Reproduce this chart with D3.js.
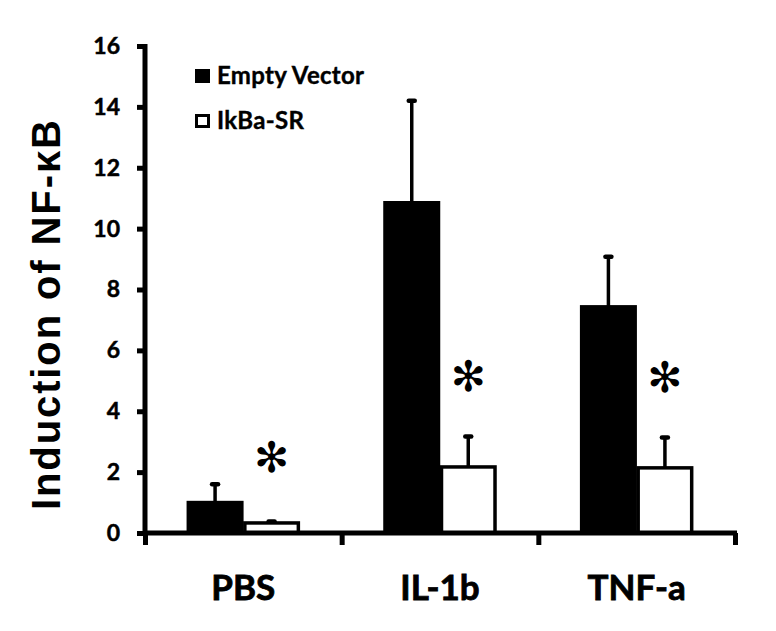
<!DOCTYPE html>
<html>
<head>
<meta charset="utf-8">
<script src="https://cdn.jsdelivr.net/npm/d3@7"></script>
<style>
  body { margin: 0; background: #fff; }
  text { font-family: Lato, "Open Sans", sans-serif; font-weight: bold; fill: #000; }
</style>
</head>
<body>
<div id="chart"></div>
<script>
const categories = ['PBS', 'IL-1b', 'TNF-a'];
const seriesNames = ['Empty Vector', 'IkBa-SR'];
const emptyVector = [1.0, 10.85, 7.43];
const emptyVectorErr = [0.6, 3.35, 1.65];
const ikbaSR = [0.33, 2.17, 2.14];
const ikbaSRErr = [0.05, 1.0, 1.0];
const significant = [true, true, true];
const yTicks = [0, 2, 4, 6, 8, 10, 12, 14, 16];

const width = 776, height = 631;
const margin = {top: 46, right: 41, bottom: 98, left: 145};

const rows = categories.map((c, i) => ({
    category: c,
    values: [
        {series: seriesNames[0], value: emptyVector[i], err: emptyVectorErr[i]},
        {series: seriesNames[1], value: ikbaSR[i], err: ikbaSRErr[i]}
    ],
    sig: significant[i]
}));

const svg = d3.select('#chart')
    .append('svg')
    .attr('width', width)
    .attr('height', height);

const x0 = d3.scaleBand()
    .domain(categories)
    .range([margin.left, width - margin.right])
    .padding(0);

const x1 = d3.scaleBand()
    .domain(seriesNames)
    .range([0, x0.bandwidth()])
    .paddingInner(0)
    .paddingOuter(0.74);

const y = d3.scaleLinear()
    .domain([0, 16])
    .range([height - margin.bottom, margin.top]);

const fill = d3.scaleOrdinal().domain(seriesNames).range(['#000', '#fff']);

// bars
const groups = svg.selectAll('.group')
    .data(rows)
    .enter()
    .append('g')
    .attr('transform', d => `translate(${x0(d.category)},0)`);

groups.selectAll('rect')
    .data(d => d.values)
    .enter()
    .append('rect')
    .attr('x', d => x1(d.series) + 1.5)
    .attr('width', x1.bandwidth() - 3)
    .attr('y', d => y(d.value))
    .attr('height', d => y(0) - y(d.value))
    .attr('fill', d => fill(d.series))
    .attr('stroke', '#000')
    .attr('stroke-width', 3.5);

// error bars (upper only)
groups.selectAll('.err')
    .data(d => d.values)
    .enter()
    .append('line')
    .attr('x1', d => x1(d.series) + x1.bandwidth() / 2)
    .attr('x2', d => x1(d.series) + x1.bandwidth() / 2)
    .attr('y1', d => y(d.value))
    .attr('y2', d => y(d.value + d.err))
    .attr('stroke', '#000')
    .attr('stroke-width', 3.5);

groups.selectAll('.cap')
    .data(d => d.values)
    .enter()
    .append('line')
    .attr('x1', d => x1(d.series) + x1.bandwidth() / 2 - 3)
    .attr('x2', d => x1(d.series) + x1.bandwidth() / 2 + 3)
    .attr('y1', d => y(d.value + d.err))
    .attr('y2', d => y(d.value + d.err))
    .attr('stroke', '#000')
    .attr('stroke-width', 4.5)
    .attr('stroke-linecap', 'round');

// significance asterisks
groups.filter(d => d.sig)
    .append('text')
    .attr('x', x1(seriesNames[1]) + x1.bandwidth() / 2)
    .attr('y', d => Math.min(y(d.values[1].value + d.values[1].err) - 60, y(2.5)))
    .attr('dy', '0.35em')
    .attr('text-anchor', 'middle')
    .style('font-family', '"DejaVu Sans", sans-serif')
    .style('font-weight', 'normal')
    .style('font-size', '42px')
    .text('✻');

// y axis
const yAxis = svg.append('g')
    .attr('transform', `translate(${margin.left},0)`)
    .call(d3.axisLeft(y).tickValues(yTicks).tickSize(8).tickPadding(17).tickSizeOuter(0));
yAxis.select('.domain').attr('stroke-width', 5).attr('d', `M0,${margin.top - 2}V${y(0)}`);
yAxis.selectAll('.tick line').attr('stroke-width', 5);
yAxis.selectAll('.tick text')
    .style('font-family', 'Lato, sans-serif')
    .style('font-weight', 'bold')
    .style('font-size', '23px')
    .attr('stroke', '#000')
    .attr('stroke-width', 0.5);

// x axis with ticks at group boundaries
const xEdge = d3.scaleLinear().domain([0, categories.length]).range(x0.range());
const xAxis = svg.append('g')
    .attr('transform', `translate(0,${y(0)})`)
    .call(d3.axisBottom(xEdge).tickValues(d3.range(categories.length + 1)).tickSize(12).tickFormat('').tickSizeOuter(0));
xAxis.select('.domain').attr('stroke-width', 5).attr('d', `M${margin.left - 2},0H${width - margin.right + 2}`);
xAxis.selectAll('.tick line').attr('stroke-width', 5);

svg.selectAll('.xlabel')
    .data(categories)
    .enter()
    .append('text')
    .attr('x', d => x0(d) + x0.bandwidth() / 2)
    .attr('y', 600)
    .attr('text-anchor', 'middle')
    .attr('stroke', '#000')
    .attr('stroke-width', 0.8)
    .style('font-size', '35px')
    .text(d => d);

// y title
svg.append('text')
    .attr('transform', `translate(60,${(120 + 510) / 2}) rotate(-90)`)
    .attr('text-anchor', 'middle')
    .attr('textLength', 390)
    .attr('lengthAdjust', 'spacing')
    .style('font-family', '"Liberation Sans", Arial, sans-serif')
    .style('font-size', '40px')
    .text('Induction of NF-κB');

// legend
const legend = svg.append('g')
    .selectAll('g')
    .data(seriesNames)
    .enter()
    .append('g')
    .attr('transform', (d, i) => `translate(195,${69 + i * 45})`);

legend.append('rect')
    .attr('x', 1.5)
    .attr('y', 1.5)
    .attr('width', 12)
    .attr('height', 11)
    .attr('fill', d => fill(d))
    .attr('stroke', '#000')
    .attr('stroke-width', 3);

legend.append('text')
    .attr('x', 22)
    .attr('y', 14.5)
    .attr('stroke', '#000')
    .attr('stroke-width', 0.4)
    .style('font-size', '24px')
    .style('letter-spacing', '0.3px')
    .text(d => d);
</script>
</body>
</html>
